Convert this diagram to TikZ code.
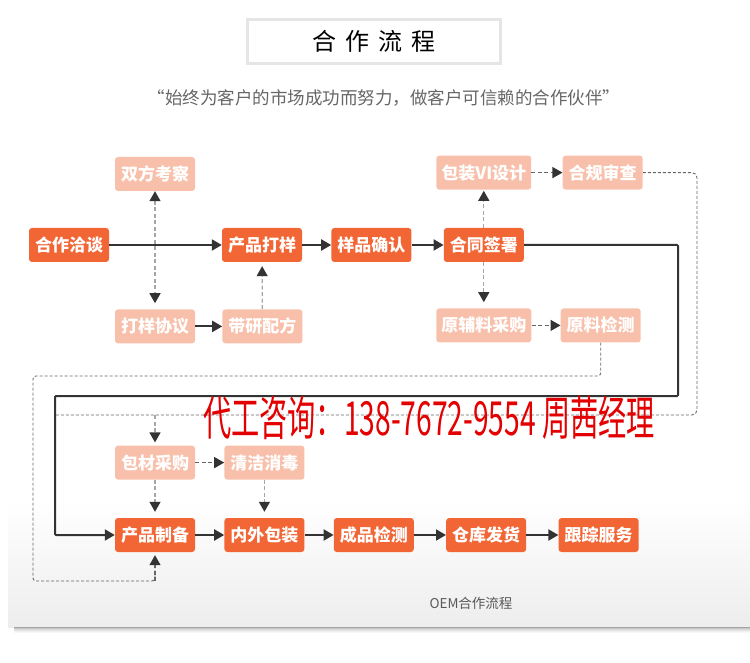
\documentclass[tikz,border=0pt]{standalone}
\usepackage{fontspec}
\setmainfont{Noto Sans CJK SC}
\usetikzlibrary{arrows.meta,positioning}
\definecolor{flowdark}{RGB}{242,101,52}
\definecolor{flowlight}{RGB}{248,192,170}
\definecolor{flowline}{RGB}{51,51,51}
\definecolor{hotred}{RGB}{226,0,0}
\tikzset{
 main/.style={rectangle,rounded corners=3pt,fill=flowdark,text=white,minimum width=80pt,minimum height=34pt,inner xsep=5pt,align=center,font=\fontsize{17}{17}\selectfont\bfseries},
 side/.style={main,fill=flowlight},
 arrow/.style={-{Triangle[length=10pt,width=11pt]},line width=2pt,draw=flowline},
 darrow/.style={-{Triangle[length=10pt,width=11pt,color=flowline]},dash pattern=on 4pt off 2.5pt,line width=1.3pt,draw=black!35,shorten >=4pt},
 loop/.style={dash pattern=on 3pt off 2pt,line width=0.9pt,draw=black!60,rounded corners=3pt}}

\begin{document}
\begin{tikzpicture}[x=1pt,y=-1pt,node distance=29pt]
\useasboundingbox (0,0) rectangle (750,663);
% card background
\shade[top color=white,bottom color=black!7] (8,500) rectangle (750,627);
\foreach \s/\o in {1/0.30,2/0.22,3/0.15,4/0.10,5/0.06,6/0.03}
 \fill[black,opacity=\o] (14,626+\s) rectangle (750,627+\s);
% title and motto
\node[draw=black!10,line width=3pt,minimum width=253pt,minimum height=44pt,font=\fontsize{24}{24}\selectfont] (title) at (374,41.5) {合\hspace{9pt}作\hspace{9pt}流\hspace{9pt}程};
\node[text=black!60,font=\fontsize{17.5}{18}\selectfont] (motto) at (384,98) {“始终为客户的市场成功而努力，做客户可信赖的合作伙伴”};
% upper part
\node[main] (talk) at (69,245) {合作洽谈};
\node[main] (proof) at (262,245) {产品打样};
\node[main,right=of proof] (confirm) {样品确认};
\node[main,right=32pt of confirm] (sign) {合同签署};
\node[side] (survey) at (155,174) {双方考察};
\node[side,below=118pt of survey] (agree) {打样协议};
\node[side,right=27pt of agree] (recipe) {带研配方};
\node[side,above=38pt of sign] (videsign) {包装VI设计};
\node[side,right=31pt of videsign] (comply) {合规审查};
\node[side,below=46pt of sign] (rawbuy) {原辅料采购};
\node[side,right=29pt of rawbuy] (rawtest) {原料检测};
% lower part
\node[main] (prep) at (155,535) {产品制备};
\node[main,right=of prep] (wrap) {内外包装};
\node[main,right=of wrap] (check) {成品检测};
\node[main,right=32pt of check] (ship) {仓库发货};
\node[main,right=32pt of ship] (serve) {跟踪服务};
\node[side,above=38pt of prep] (packbuy) {包材采购};
\node[side,right=of packbuy] (clean) {清洁消毒};
\coordinate (rbend) at (678,396);
\coordinate (lbend) at (55,396);
\coordinate (dbend) at (697,415);
\coordinate (dend) at (55,415);
\coordinate (ltop) at (33,376);
\coordinate (lbot) at (33,581);
% connectors
\draw[arrow] (talk)--(proof); \draw[arrow] (proof)--(confirm); \draw[arrow] (confirm)--(sign);
\draw[darrow,{Triangle[length=10pt,width=11pt,color=flowline]}-{Triangle[length=10pt,width=11pt,color=flowline]},shorten >=6pt] (survey)--(agree);
\draw[arrow] (agree)--(recipe);
\draw[darrow] (recipe)--(proof);
\draw[darrow,shorten >=1pt] (sign)--(videsign);
\draw[darrow,shorten >=6pt] (sign)--(rawbuy);
\draw[darrow,draw=black!60,shorten >=0pt] (videsign)--(comply);
\draw[darrow,draw=black!60,shorten >=0pt] (rawbuy)--(rawtest);
\draw[arrow,rounded corners=1pt] (sign.east) -| (rbend) -- (lbend) |- (prep.west);
\draw[loop,rounded corners=5pt] (comply.east) -| (dbend) -- (dend);
\draw[darrow,shorten >=3pt] (packbuy.north |- dend) -- (packbuy.north);
\draw[loop] (rawtest.south) |- (ltop) -- (lbot) -| ([yshift=-8pt]prep.south);
\draw[darrow,draw=black!60,shorten >=3pt] ([yshift=-8pt]prep.south |- lbot) ++(0,-8) -- (prep.south);
\draw[darrow,draw=black!60,shorten >=0pt] (packbuy)--(clean);
\draw[darrow,shorten >=6pt] (packbuy)--(prep);
\draw[darrow,shorten >=6pt] (clean)--(wrap);
\draw[arrow] (prep)--(wrap); \draw[arrow] (wrap)--(check); \draw[arrow] (check)--(ship); \draw[arrow] (ship)--(serve);
% hotline and caption
\node[text=hotred] (hotline) at (429,418) {\scalebox{0.6}[1]{\fontsize{47}{47}\selectfont 代工咨询：138-7672-9554 周茜经理}};
\node[text=black!65,font=\fontsize{13.5}{14}\selectfont] (caption) at (471,603) {OEM合作流程};
\end{tikzpicture}
\end{document}
